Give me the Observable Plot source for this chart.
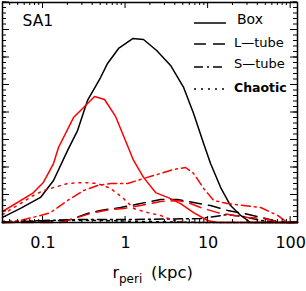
<!DOCTYPE html>
<html>
<head>
<meta charset="utf-8">
<script src="https://cdn.jsdelivr.net/npm/d3@7"></script>
<script src="https://cdn.jsdelivr.net/npm/@observablehq/plot@0.6"></script>
<style>
  html, body { margin: 0; padding: 0; background: #fff; }
  #chart { width: 306px; height: 291px; }
</style>
</head>
<body>
<div id="chart"></div>
<script>
// ---- data (r_peri in kpc, relative frequency) ----
const boxBlackR = [0.0323,0.0534,0.0933,0.134,0.198,0.262,0.346,0.498,0.605,0.822,1.22,1.65,2.38,3.51,5.05,6.67,8.82,10.7,14.2,18.7,24.8,32.7,121];
const boxBlackV = [0.023,0.064,0.114,0.191,0.327,0.418,0.555,0.659,0.723,0.791,0.836,0.832,0.782,0.714,0.614,0.495,0.359,0.268,0.159,0.077,0.032,0,0];

const boxRedR = [0.0323,0.0746,0.101,0.134,0.154,0.234,0.310,0.421,0.556,0.757,1.25,1.65,2.31,3.23,4.64,6.67,9.86,13.0,121];
const boxRedV = [0.05,0.132,0.182,0.268,0.341,0.477,0.523,0.573,0.559,0.482,0.282,0.205,0.136,0.114,0.086,0.045,0.009,0,0];

const chaoticRedR = [0.0323,0.0767,0.101,0.134,0.198,0.310,0.458,0.658,0.946,1.25,1.85,2.66,3.82,5.64,121];
const chaoticRedV = [0.036,0.123,0.145,0.159,0.177,0.182,0.177,0.155,0.109,0.064,0.045,0.032,0.009,0,0];

const stubeRedR = [0.0323,0.0534,0.0933,0.123,0.198,0.310,0.458,0.658,1.06,1.65,2.66,3.82,5.34,6.67,8.82,11.7,17.2,26.9,43.3,69.5,92.0,121];
const stubeRedV = [0,0.009,0.032,0.045,0.1,0.145,0.168,0.177,0.177,0.2,0.223,0.241,0.25,0.223,0.155,0.1,0.086,0.077,0.068,0.032,0,0];

const ltubeRedR = [0.0323,0.163,0.262,0.409,0.658,0.946,1.52,2.66,4.27,5.64,8.11,13.0,20.4,30.1,47.1,75.6,121];
const ltubeRedV = [0,0,0.023,0.045,0.059,0.064,0.077,0.095,0.1,0.091,0.068,0.045,0.032,0.023,0.018,0,0];

const ltubeBlackR = [0.0323,0.198,0.346,0.498,0.870,1.52,2.66,4.27,6.67,10.7,17.2,26.9,39.8,62.2,92,121];
const ltubeBlackV = [0,0.009,0.041,0.055,0.068,0.086,0.105,0.105,0.091,0.077,0.055,0.041,0.027,0.009,0,0];

const stubeBlackR = [0.0323,0.101,0.31,1.25,8.11,17.2,26.9,43.3,75.6,121];
const stubeBlackV = [0,0.009,0.014,0.014,0.018,0.036,0.027,0.009,0,0];

const chaoticBlackR = [0.0323,0.163,0.498,1.52,8.11,121];
const chaoticBlackV = [0.005,0.009,0.009,0.005,0,0];

const xMajorTicks = [0.1, 1, 10, 100];
const xTickLabels = ["0.1", "1", "10", "100"];
const xMinorTicks = [0.04,0.05,0.06,0.07,0.08,0.09,0.2,0.3,0.4,0.5,0.6,0.7,0.8,0.9,2,3,4,5,6,7,8,9,20,30,40,50,60,70,80,90];
const yMinorTicks = d3.range(0, 1.0001, 0.025);
const yMajorTicks = d3.range(0, 1.0001, 0.125);

const legendLabels = ["Box", "L—tube", "S—tube", "Chaotic"];
const panelLabel = "SA1";

// ---- styles ----
const dashes = {"Box": null, "L—tube": "12,7", "S—tube": "9,4,2,4", "Chaotic": "2,5"};

const series = [
  {type: "Box", color: "black", r: boxBlackR, v: boxBlackV},
  {type: "L—tube", color: "black", r: ltubeBlackR, v: ltubeBlackV},
  {type: "S—tube", color: "black", r: stubeBlackR, v: stubeBlackV},
  {type: "Chaotic", color: "black", r: chaoticBlackR, v: chaoticBlackV},
  {type: "Chaotic", color: "red", r: chaoticRedR, v: chaoticRedV},
  {type: "L—tube", color: "red", r: ltubeRedR, v: ltubeRedV},
  {type: "S—tube", color: "red", r: stubeRedR, v: stubeRedV},
  {type: "Box", color: "red", r: boxRedR, v: boxRedV}
];

const lineMarks = series.map(s => Plot.line(
  s.r.map((r, i) => ({r, v: s.v[i]})),
  {x: "r", y: "v", stroke: s.color, strokeWidth: 1.5, strokeDasharray: dashes[s.type]}
));

const font = "'DejaVu Sans', Verdana, sans-serif";

const plot = Plot.plot({
  width: 306,
  height: 291,
  marginTop: 2,
  marginLeft: 2,
  marginRight: 9,
  marginBottom: 69,
  style: {fontFamily: font, background: "white", overflow: "visible"},
  x: {type: "log", domain: [0.0323, 121]},
  y: {domain: [0, 1], axis: null},
  marks: [
    ...lineMarks,
    Plot.axisX({anchor: "bottom", ticks: xMajorTicks, tickSize: 0, tickPadding: 14, fontSize: 16,
      tickFormat: d => xTickLabels[xMajorTicks.indexOf(d)], label: null}),
    Plot.frame({stroke: "black", strokeWidth: 1.5}),
    Plot.text([panelLabel], {frameAnchor: "top-left", text: d => d, dx: 20, dy: 23, lineAnchor: "bottom", textAnchor: "start", fontSize: 15.5, fill: "black"}),
    Plot.text(["r"], {frameAnchor: "bottom", text: d => d, dx: -37.5, dy: 55, lineAnchor: "bottom", textAnchor: "start", fontSize: 16}),
    Plot.text(["peri"], {frameAnchor: "bottom", text: d => d, dx: -31, dy: 60, lineAnchor: "bottom", textAnchor: "start", fontSize: 12}),
    Plot.text(["(kpc)"], {frameAnchor: "bottom", text: d => d, dx: 1, dy: 55, lineAnchor: "bottom", textAnchor: "start", fontSize: 16.5})
  ]
});

// inward ticks drawn from the plot's own scales
const sx = plot.scale("x"), sy = plot.scale("y");
const [x0, x1] = sx.range;
const [y0, y1] = sy.range; // y0 bottom, y1 top
const svg = d3.select(plot);
const tg = svg.append("g").attr("stroke", "black").attr("stroke-width", 1);
function xt(ticks, len) {
  ticks.forEach(t => {
    const px = sx.apply(t);
    tg.append("line").attr("x1", px).attr("x2", px).attr("y1", y0).attr("y2", y0 - len);
    tg.append("line").attr("x1", px).attr("x2", px).attr("y1", y1).attr("y2", y1 + len);
  });
}
function yt(ticks, len) {
  ticks.forEach(t => {
    const py = sy.apply(t);
    tg.append("line").attr("y1", py).attr("y2", py).attr("x1", x0).attr("x2", x0 + len);
    tg.append("line").attr("y1", py).attr("y2", py).attr("x1", x1).attr("x2", x1 - len);
  });
}
xt(xMinorTicks, 3);
xt(xMajorTicks, 6);
yt(yMinorTicks, 4);
yt(yMajorTicks, 7);

// legend
const legendY = [23, 44, 67, 89];
const textY = [24, 47, 68, 92];
const textSize = [14, 13, 13, 12.5];
const legend = svg.append("g").attr("class", "legend");
legendLabels.forEach((lab, i) => {
  legend.append("line")
    .attr("x1", 194).attr("x2", 226)
    .attr("y1", legendY[i]).attr("y2", legendY[i])
    .attr("stroke", "black").attr("stroke-width", 1.5)
    .attr("stroke-dasharray", dashes[lab]);
  legend.append("text")
    .attr("x", lab === "Box" ? 237 : 234).attr("y", textY[i])
    .attr("text-anchor", "start")
    .attr("font-family", font)
    .attr("font-size", textSize[i])
    .attr("font-weight", lab === "Chaotic" ? "bold" : "normal")
    .attr("fill", "black")
    .text(lab);
});

document.getElementById("chart").appendChild(plot);
</script>
</body>
</html>
